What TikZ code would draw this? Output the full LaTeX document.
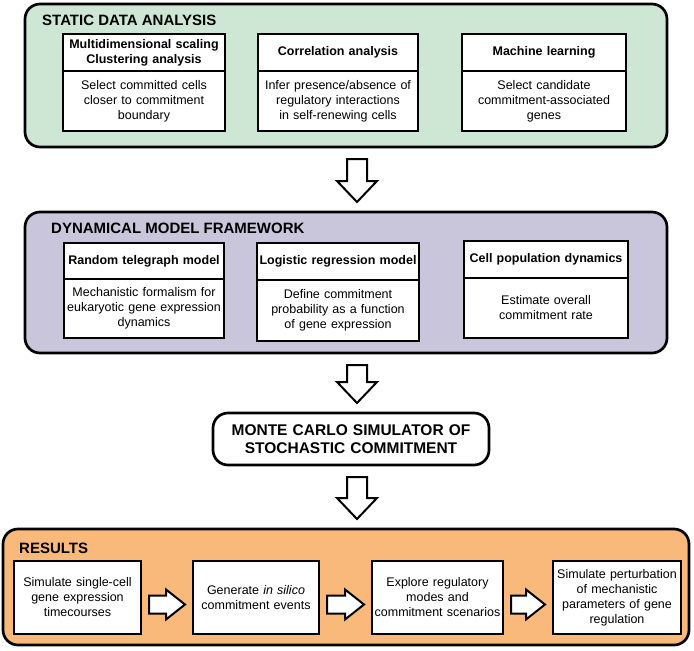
\documentclass[tikz,border=0pt]{standalone}
\usepackage{fontspec}
\setmainfont{Liberation Sans}
\usepackage{tikz}
\usetikzlibrary{positioning,calc}
\definecolor{staticgreen}{RGB}{206,231,213}
\definecolor{modelpurple}{RGB}{201,198,220}
\definecolor{resultorange}{RGB}{249,185,122}

\begin{document}
\begin{tikzpicture}
                        [
                            x=1pt, y=-1pt,
                            panel/.style={draw, line width=2.7pt, rounded corners=15pt, inner sep=0pt, outer sep=0pt},
                            panel title/.style={anchor=west, inner sep=0pt, font=\fontsize{15}{18}\selectfont\bfseries},
                            head box/.style={draw, fill=white, line width=1.4pt, inner sep=0pt, outer sep=0pt, align=center, font=\fontsize{12.5}{15}\selectfont\bfseries},
                            body box/.style={head box, font=\fontsize{12.5}{15}\selectfont},
                            mc box/.style={panel, fill=white, align=center, font=\fontsize{15.5}{18.5}\selectfont\bfseries},
                            block arrow/.style={draw, fill=white, line width=2pt, line join=miter}
                        ]
                        \useasboundingbox (0,0) rectangle (694,651);
                        \node[panel, fill=staticgreen, minimum width=642pt, minimum height=143pt] (static) at (346,75.5) {};
                        \node[panel, fill=modelpurple, minimum width=642pt, minimum height=141pt] (dynamic) at (346,282.5) {};
                        \node[panel, fill=resultorange, minimum width=686pt, minimum height=116pt] (results) at (346,587) {};
                        \node[panel title] (statictitle) at (42,20) {STATIC DATA ANALYSIS};
                        \node[panel title] (dynamictitle) at (51,228) {DYNAMICAL MODEL FRAMEWORK};
                        \node[panel title] (resultstitle) at (19,548) {RESULTS};
                        % static data analysis
                        \node[head box, text width=162pt, minimum height=37pt] (mdshead) at (144,52.5) {Multidimensional scaling\\Clustering analysis};
                        \node[body box, text width=162pt, minimum height=60pt, below=0pt of mdshead] (mdsbody) {Select committed cells\\closer to commitment\\boundary};
                        \node[head box, text width=160pt, minimum height=37pt] (corrhead) at (338,52.5) {Correlation analysis};
                        \node[body box, text width=160pt, minimum height=60pt, below=0pt of corrhead] (corrbody) {Infer presence/absence of\\regulatory interactions\\in self-renewing cells};
                        \node[head box, text width=164pt, minimum height=37pt] (mlhead) at (544,52.5) {Machine learning};
                        \node[body box, text width=164pt, minimum height=60pt, below=0pt of mlhead] (mlbody) {Select candidate\\commitment-associated\\genes};
                        % dynamical model framework
                        \node[head box, text width=160pt, minimum height=36pt] (rtmhead) at (144,261) {Random telegraph model};
                        \node[body box, text width=160pt, minimum height=59pt, below=0pt of rtmhead] (rtmbody) {Mechanistic formalism for\\eukaryotic gene expression\\dynamics};
                        \node[head box, text width=162pt, minimum height=37pt] (lrmhead) at (338,261.5) {Logistic regression model};
                        \node[body box, text width=162pt, minimum height=61pt, below=0pt of lrmhead] (lrmbody) {Define commitment\\probability as a function\\of gene expression};
                        \node[head box, text width=164pt, minimum height=37pt] (cpdhead) at (546,259.5) {Cell population dynamics};
                        \node[body box, text width=164pt, minimum height=60pt, below=0pt of cpdhead] (cpdbody) {Estimate overall\\commitment rate};
                        \node[mc box, text width=276pt, minimum height=52pt] (mc) at (351,439) {MONTE CARLO SIMULATOR OF\\STOCHASTIC COMMITMENT};
                        % results
                        \node[body box, text width=127pt, minimum height=73pt] (sim) at (77.5,597.5) {Simulate single-cell\\gene expression\\timecourses};
                        \node[body box, text width=126pt, minimum height=73pt] (gen) at (256,597.5) {Generate \textit{in silico}\\commitment events};
                        \node[body box, text width=131pt, minimum height=73pt] (expl) at (437.5,597.5) {Explore regulatory\\modes and\\commitment scenarios};
                        \node[body box, text width=128pt, minimum height=73pt] (pert) at (617,597.5) {Simulate perturbation\\of mechanistic\\parameters of gene\\regulation};
                        \foreach \a/\b in {static/dynamic, dynamic/mc, mc/results}
                            \draw[block arrow] let \p1=(\a.south), \p2=(\b.north) in (347pt,\y1-12pt) -- (347pt,\y2+31pt) -- (337pt,\y2+31pt) -- (357pt,\y2+10pt) -- (377pt,\y2+31pt) -- (367pt,\y2+31pt) -- (367pt,\y1-12pt) -- cycle;
                        \foreach \a/\b in {sim/gen, gen/expl, expl/pert}
                            \draw[block arrow] let \p1=(\a.east), \p2=(\b.west) in (\x1+8pt,\y1+2pt) -- (\x2-27pt,\y1+2pt) -- (\x2-27pt,\y1+8pt) -- (\x2-8pt,\y1-7pt) -- (\x2-27pt,\y1-22pt) -- (\x2-27pt,\y1-16pt) -- (\x1+8pt,\y1-16pt) -- cycle;
                        
                        \end{tikzpicture}
\end{document}
